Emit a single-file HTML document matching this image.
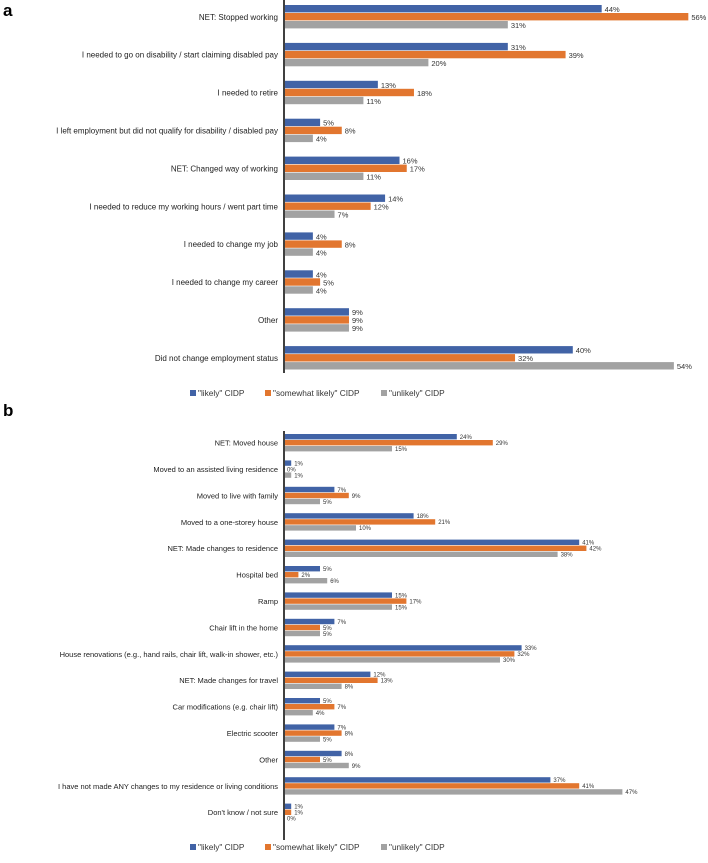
<!DOCTYPE html>
<html><head><meta charset="utf-8"><style>
body{margin:0;background:#fff;width:708px;height:858px;overflow:hidden;font-family:"Liberation Sans",Arial,sans-serif}
</style></head><body>
<svg id="svg" width="708" height="858" xmlns="http://www.w3.org/2000/svg">
<text x="3" y="16" font-size="17" font-weight="bold">a</text>
<text x="3" y="416" font-size="17" font-weight="bold">b</text>
</svg>
<script>
const catsA=["NET: Stopped working","I needed to go on disability / start claiming disabled pay","I needed to retire","I left employment but did not qualify for disability / disabled pay","NET: Changed way of working","I needed to reduce my working hours / went part time","I needed to change my job","I needed to change my career","Other","Did not change employment status"];
const likelyA=[44,31,13,5,16,14,4,4,9,40];
const somewhatA=[56,39,18,8,17,12,8,5,9,32];
const unlikelyA=[31,20,11,4,11,7,4,4,9,54];
const catsB=["NET: Moved house","Moved to an assisted living residence","Moved to live with family","Moved to a one-storey house","NET: Made changes to residence","Hospital bed","Ramp","Chair lift in the home","House renovations (e.g., hand rails, chair lift, walk-in shower, etc.)","NET: Made changes for travel","Car modifications (e.g. chair lift)","Electric scooter","Other","I have not made ANY changes to my residence or living conditions","Don't know / not sure"];
const likelyB=[24,1,7,18,41,5,15,7,33,12,5,7,8,37,1];
const somewhatB=[29,0,9,21,42,2,17,5,32,13,7,8,5,41,1];
const unlikelyB=[15,1,5,10,38,6,15,5,30,8,4,5,9,47,0];
const legendLabels=['"likely" CIDP','"somewhat likely" CIDP','"unlikely" CIDP'];
const colors=["#4163a6","#e2762f","#a2a2a2"];
const svg=document.getElementById('svg');
const NS="http://www.w3.org/2000/svg";
function mk(t,a){const e=document.createElementNS(NS,t);for(const k in a)e.setAttribute(k,a[k]);svg.appendChild(e);return e;}
function panel(p,cats,series,o){
  const x=v=>o.x0+v*o.scale;
  const yc=i=>o.y0+i*o.step;
  const ax=mk('line',{x1:o.x0,x2:o.x0,y1:o.top,y2:o.bottom,stroke:'#000','stroke-width':1.5});
  
  
  cats.forEach((c,i)=>{
    const t=mk('text',{x:o.x0-6,y:yc(i)+o.fs*0.35,'text-anchor':'end','font-size':o.fs,fill:'#222'});
    t.textContent=c;
    
    
    series.forEach((s,j)=>{
      const y=yc(i)-1.5*o.bh+j*o.bh;
      const r=mk('rect',{x:o.x0+1,y:y,width:Math.max(0,x(s[i])-o.x0-1),height:o.bh-0.6,fill:colors[j]});
      
      
      const v=mk('text',{x:x(s[i])+3,y:y+o.bh-1,'font-size':o.vfs,fill:'#333'});
      v.textContent=s[i]+'%';
      
      
    });
  });
  const lx=[190,265,381];
  legendLabels.forEach((l,j)=>{
    const r=mk('rect',{x:lx[j],y:o.ly-5,width:6,height:6,fill:colors[j]});
    
    
    const t=mk('text',{x:lx[j]+8,y:o.ly+1,'font-size':8.3,fill:'#333'});
    t.textContent=l;
    
    
  });
}
panel('a',catsA,[likelyA,somewhatA,unlikelyA],{x0:284,scale:7.22,y0:17,step:37.9,bh:8,top:0,bottom:373,fs:8,vfs:7.5,ly:395});
panel('b',catsB,[likelyB,somewhatB,unlikelyB],{x0:284,scale:7.2,y0:443,step:26.4,bh:6,top:431,bottom:840,fs:7.5,vfs:6,ly:849});
</script>
</body></html>
